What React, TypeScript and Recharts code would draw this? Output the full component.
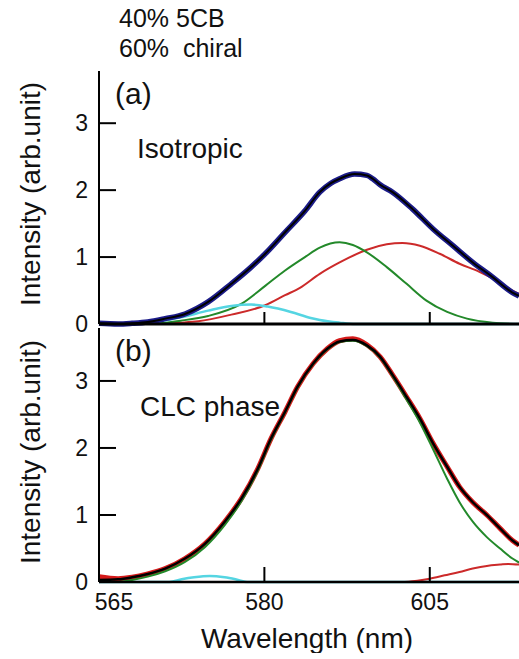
import React from 'react';
import { LineChart, Line, XAxis, YAxis } from 'recharts';

const FONT = '"Liberation Sans", Arial, Helvetica, sans-serif';

// ---------- axes ----------
const X_DOMAIN: [number, number] = [565, 617];
const xTicks = [565, 585, 605];
const xTickLabels = ['565', '580', '605'];
const yTicks = [0, 1, 2, 3];
const Y_DOMAIN_A: [number, number] = [0, 3.78];
const Y_DOMAIN_B: [number, number] = [0, 3.79];

// ---------- (a) Isotropic ----------
const isoX = [565, 567.3, 569.0, 570.9, 573.0, 575.4, 578.2, 581.0, 583.4, 585.1, 587.5, 589.9, 591.7, 593.0, 594.1, 595.9, 597.4, 598.1, 599.0, 600.5, 602.9, 605.4, 607.8, 610.2, 612.6, 615.0, 615.8];
const isoY = [0.01, 0.0, 0.01, 0.03, 0.08, 0.15, 0.33, 0.6, 0.85, 1.05, 1.37, 1.69, 1.97, 2.1, 2.17, 2.24, 2.22, 2.17, 2.08, 1.97, 1.72, 1.42, 1.17, 0.92, 0.7, 0.47, 0.42];

const isoGreenX = [565, 570.9, 574.9, 578.2, 582.2, 585.1, 587.5, 589.9, 591.7, 594.1, 595.7, 597.4, 599.8, 602.2, 604.6, 607.1, 609.5, 612.6, 615.8];
const isoGreenY = [0, 0.0, 0.05, 0.12, 0.3, 0.57, 0.8, 1.0, 1.14, 1.22, 1.18, 1.07, 0.85, 0.6, 0.35, 0.18, 0.08, 0.02, 0.0];

const isoRedX = [565, 570.9, 574.9, 577.0, 581.0, 585.1, 587.5, 589.3, 591.7, 594.1, 597.4, 599.8, 601.7, 603.8, 606.2, 608.6, 611.0, 612.6, 615.0, 615.8];
const isoRedY = [0, 0.0, 0.02, 0.04, 0.14, 0.28, 0.43, 0.54, 0.75, 0.92, 1.11, 1.19, 1.21, 1.17, 1.05, 0.9, 0.78, 0.68, 0.5, 0.45];

const isoCyanX = [565, 570.9, 574.9, 578.2, 581.0, 583.4, 585.4, 588.2, 590.6, 591.7, 594.1, 596.0, 617];
const isoCyanY = [0, 0.02, 0.1, 0.2, 0.27, 0.29, 0.26, 0.18, 0.09, 0.06, 0.02, 0, 0];

// ---------- (b) CLC phase ----------
const clcX = [565, 567.3, 569.0, 570.9, 573.0, 575.4, 577.8, 580.2, 582.2, 584.2, 585.8, 587.5, 589.0, 590.9, 592.6, 594.1, 595.7, 597.4, 599.0, 600.5, 602.2, 603.8, 605.4, 607.1, 608.6, 610.2, 611.9, 613.5, 615.0, 615.8];
const clcDataY = [0.08, 0.05, 0.07, 0.12, 0.2, 0.35, 0.57, 0.9, 1.24, 1.69, 2.14, 2.54, 2.91, 3.26, 3.48, 3.6, 3.63, 3.54, 3.36, 3.09, 2.76, 2.44, 2.07, 1.72, 1.42, 1.19, 1.0, 0.8, 0.62, 0.55];
const clcFitY = [0.03, 0.04, 0.07, 0.12, 0.2, 0.35, 0.57, 0.9, 1.24, 1.69, 2.14, 2.54, 2.91, 3.26, 3.48, 3.59, 3.61, 3.53, 3.36, 3.09, 2.76, 2.44, 2.07, 1.72, 1.42, 1.19, 1.0, 0.8, 0.62, 0.55];

const clcGreenX = [567.3, 569.0, 570.9, 573.0, 575.4, 577.8, 580.2, 582.2, 584.2, 585.8, 587.5, 589.0, 590.9, 592.6, 594.1, 595.7, 597.4, 599.0, 600.5, 602.2, 603.8, 605.4, 607.1, 608.6, 610.2, 611.9, 613.5, 615.0, 615.8];
const clcGreenY = [0.0, 0.03, 0.08, 0.16, 0.3, 0.52, 0.85, 1.2, 1.66, 2.12, 2.53, 2.9, 3.25, 3.47, 3.58, 3.6, 3.52, 3.35, 3.07, 2.72, 2.38, 1.98, 1.54, 1.19, 0.9, 0.67, 0.5, 0.35, 0.29];

const clcRedX = [602.0, 603.5, 605.0, 606.8, 608.6, 610.2, 611.9, 613.5, 614.5, 615.8];
const clcRedY = [0, 0.02, 0.05, 0.1, 0.15, 0.2, 0.24, 0.26, 0.27, 0.26];

const clcCyanX = [565, 573.5, 575.0, 576.5, 578.4, 580.2, 581.5, 582.9, 617];
const clcCyanY = [0, 0, 0.04, 0.07, 0.09, 0.07, 0.04, 0, 0];

const pts = (xs: number[], ys: number[]) => xs.map((x, i) => ({ x, y: ys[i] }));

const NAVY = '#1b1b88';
const GREEN = '#23892a';
const RED = '#cc2a2a';
const CYAN = '#55d5e2';
const DATA_RED = '#d41a1a';

// ---------- layout (page pixels) ----------
const CHART_W = 521;
const Y_AXIS_W = 91;
const TOP_CHART = { left: 8, top: 8, height: 330, marginTop: 63, xAxisH: 14 };
const BOT_CHART = { left: 8, top: 308, height: 345, marginTop: 20, xAxisH: 71 };
const PLOT_LEFT = TOP_CHART.left + Y_AXIS_W;
const PLOT_W = CHART_W - Y_AXIS_W;
const plotTop = (c: typeof TOP_CHART) => c.top + c.marginTop;
const plotBottom = (c: typeof TOP_CHART) => c.top + c.height - c.xAxisH;
const xPix = (v: number) => PLOT_LEFT + ((v - X_DOMAIN[0]) / (X_DOMAIN[1] - X_DOMAIN[0])) * PLOT_W;
const yPix = (c: typeof TOP_CHART, d: [number, number], v: number) =>
  plotBottom(c) - ((v - d[0]) / (d[1] - d[0])) * (plotBottom(c) - plotTop(c));

// ---- tick labels (text only) ----
const YTick = (props: any) => (
  <text x={Number(props.x) - 11} y={Number(props.y)} dy="0.36em" textAnchor="end" fontSize={23} fontFamily={FONT} fill="#111">
    {props.payload.value}
  </text>
);

const XTick = (props: any) => {
  const idx = xTicks.indexOf(props.payload.value);
  const dx = idx === 0 ? 15 : 0;
  return (
    <text x={Number(props.x) + dx} y={Number(props.y) + 28} textAnchor="middle" fontSize={23} fontFamily={FONT} fill="#111">
      {xTickLabels[idx]}
    </text>
  );
};

const EmptyTick = () => <g />;

const yTitle = (cy: number) => () => (
  <text
    x={22}
    y={cy}
    transform={`rotate(-90 22 ${cy})`}
    textAnchor="middle"
    dominantBaseline="central"
    fontSize={28}
    fontFamily={FONT}
    fill="#111"
  >
    Intensity (arb.unit)
  </text>
);

const xTitle = () => (
  <text x={299} y={340} textAnchor="middle" fontSize={28} fontFamily={FONT} fill="#111">
    Wavelength (nm)
  </text>
);

// inward tick marks for one panel
const PanelTicks = ({ c, d, xLen }: { c: typeof TOP_CHART; d: [number, number]; xLen: number }) => (
  <g stroke="#000" strokeWidth={2}>
    {yTicks.map((t) => (
      <line key={`y${t}`} x1={PLOT_LEFT} x2={PLOT_LEFT + 17} y1={yPix(c, d, t)} y2={yPix(c, d, t)} />
    ))}
    {xTicks.map((t) => (
      <line key={`x${t}`} x1={xPix(t)} x2={xPix(t)} y1={plotBottom(c)} y2={plotBottom(c) - xLen} />
    ))}
  </g>
);

export default function App() {
  return (
    <div style={{ position: 'fixed', left: 0, top: 0, width: 519, height: 659, overflow: 'hidden', background: '#fff' }}>
      <div style={{ position: 'absolute', left: TOP_CHART.left, top: TOP_CHART.top }}>
        <LineChart width={CHART_W} height={TOP_CHART.height} margin={{ top: TOP_CHART.marginTop, right: 0, bottom: 0, left: 0 }}>
          <XAxis
            xAxisId="top"
            orientation="top"
            type="number"
            domain={X_DOMAIN}
            height={0}
            tick={false}
            tickLine={false}
            axisLine={{ stroke: '#000', strokeWidth: 2 }}
          />
          <XAxis
            type="number"
            dataKey="x"
            domain={X_DOMAIN}
            ticks={xTicks}
            interval={0}
            height={TOP_CHART.xAxisH}
            tickSize={0}
            tickMargin={0}
            tickLine={false}
            tick={EmptyTick}
            axisLine={{ stroke: '#000', strokeWidth: 3 }}
          />
          <YAxis
            type="number"
            domain={Y_DOMAIN_A}
            ticks={yTicks}
            interval={0}
            width={Y_AXIS_W}
            tickSize={0}
            tickMargin={0}
            tickLine={false}
            tick={YTick}
            axisLine={{ stroke: '#000', strokeWidth: 2 }}
            label={yTitle(186)}
          />
          <Line data={pts(isoRedX, isoRedY)} dataKey="y" stroke={RED} strokeWidth={2} dot={false} type="monotone" isAnimationActive={false} />
          <Line data={pts(isoGreenX, isoGreenY)} dataKey="y" stroke={GREEN} strokeWidth={2} dot={false} type="monotone" isAnimationActive={false} />
          <Line data={pts(isoCyanX, isoCyanY)} dataKey="y" stroke={CYAN} strokeWidth={2.5} dot={false} type="monotone" isAnimationActive={false} />
          <Line data={pts(isoX, isoY)} dataKey="y" stroke={NAVY} strokeWidth={5.5} dot={false} type="monotone" isAnimationActive={false} />
          <Line data={pts(isoX, isoY)} dataKey="y" stroke="#000" strokeWidth={2} dot={false} type="monotone" isAnimationActive={false} />
        </LineChart>
      </div>
      <div style={{ position: 'absolute', left: BOT_CHART.left, top: BOT_CHART.top }}>
        <LineChart width={CHART_W} height={BOT_CHART.height} margin={{ top: BOT_CHART.marginTop, right: 0, bottom: 0, left: 0 }}>
          <XAxis
            xAxisId="top"
            orientation="top"
            type="number"
            domain={X_DOMAIN}
            height={0}
            tick={false}
            tickLine={false}
            axisLine={{ stroke: '#000', strokeWidth: 3 }}
          />
          <XAxis
            type="number"
            dataKey="x"
            domain={X_DOMAIN}
            ticks={xTicks}
            interval={0}
            height={BOT_CHART.xAxisH}
            tickSize={0}
            tickMargin={0}
            tickLine={false}
            tick={XTick}
            axisLine={{ stroke: '#000', strokeWidth: 2.5 }}
            label={xTitle}
          />
          <YAxis
            type="number"
            domain={Y_DOMAIN_B}
            ticks={yTicks}
            interval={0}
            width={Y_AXIS_W}
            tickSize={0}
            tickMargin={0}
            tickLine={false}
            tick={YTick}
            axisLine={{ stroke: '#000', strokeWidth: 2 }}
            label={yTitle(144)}
          />
          <Line data={pts(clcCyanX, clcCyanY)} dataKey="y" stroke={CYAN} strokeWidth={2.5} dot={false} type="monotone" isAnimationActive={false} />
          <Line data={pts(clcRedX, clcRedY)} dataKey="y" stroke={RED} strokeWidth={2} dot={false} type="monotone" isAnimationActive={false} />
          <Line data={pts(clcX, clcDataY)} dataKey="y" stroke={DATA_RED} strokeWidth={5} dot={false} type="monotone" isAnimationActive={false} />
          <Line data={pts(clcGreenX, clcGreenY)} dataKey="y" stroke={GREEN} strokeWidth={2} dot={false} type="monotone" isAnimationActive={false} />
          <Line data={pts(clcX, clcFitY)} dataKey="y" stroke="#000" strokeWidth={2.5} dot={false} type="monotone" isAnimationActive={false} />
        </LineChart>
      </div>
      <svg width={519} height={659} style={{ position: 'absolute', left: 0, top: 0, pointerEvents: 'none' }}>
        <PanelTicks c={TOP_CHART} d={Y_DOMAIN_A} xLen={12} />
        <PanelTicks c={BOT_CHART} d={Y_DOMAIN_B} xLen={15} />
        <g fontFamily={FONT} fill="#111">
          <text x={119} y={27} fontSize={25}>40% 5CB</text>
          <text x={119} y={57} fontSize={25} style={{ whiteSpace: 'pre' }}>{'60%  chiral'}</text>
          <text x={115} y={104} fontSize={30}>(a)</text>
          <text x={137} y={158} fontSize={28}>Isotropic</text>
          <text x={115} y={361} fontSize={30}>(b)</text>
          <text x={140} y={416} fontSize={28}>CLC phase</text>
        </g>
      </svg>
    </div>
  );
}
